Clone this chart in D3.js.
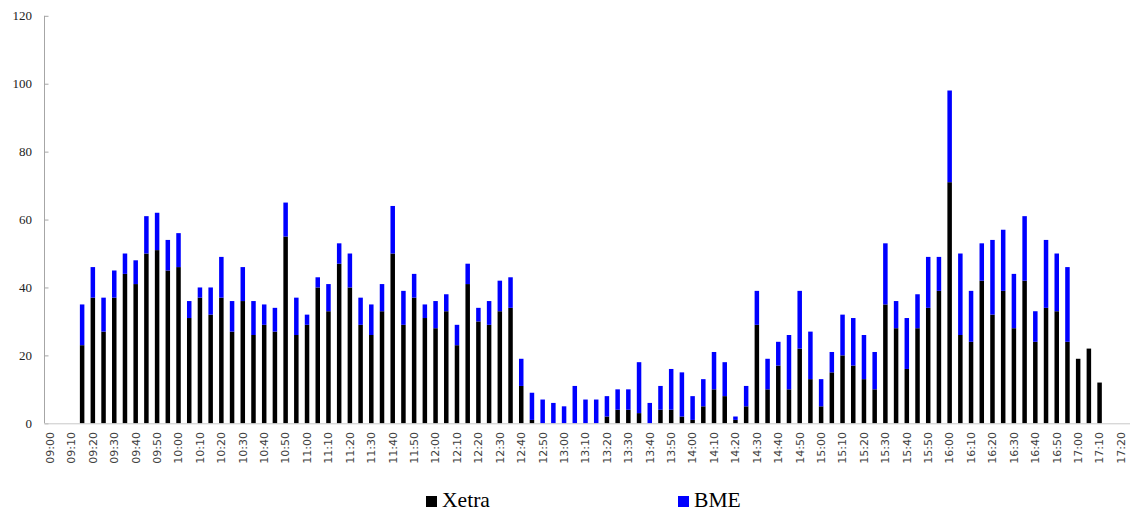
<!DOCTYPE html>
<html>
<head>
<meta charset="utf-8">
<script src="https://cdn.jsdelivr.net/npm/d3@7"></script>
<style>
  body { margin: 0; background: #fff; }
  svg { display: block; }
</style>
</head>
<body>
<svg id="chart" width="1132" height="515"></svg>
<script>
// bar times, one bar every 5 minutes
var times = ("09:15 09:20 09:25 09:30 09:35 09:40 09:45 09:50 09:55 10:00 10:05 10:10 " +
    "10:15 10:20 10:25 10:30 10:35 10:40 10:45 10:50 10:55 11:00 11:05 11:10 " +
    "11:15 11:20 11:25 11:30 11:35 11:40 11:45 11:50 11:55 12:00 12:05 12:10 " +
    "12:15 12:20 12:25 12:30 12:35 12:40 12:45 12:50 12:55 13:00 13:05 13:10 " +
    "13:15 13:20 13:25 13:30 13:35 13:40 13:45 13:50 13:55 14:00 14:05 14:10 " +
    "14:15 14:20 14:25 14:30 14:35 14:40 14:45 14:50 14:55 15:00 15:05 15:10 " +
    "15:15 15:20 15:25 15:30 15:35 15:40 15:45 15:50 15:55 16:00 16:05 16:10 " +
    "16:15 16:20 16:25 16:30 16:35 16:40 16:45 16:50 16:55 17:00 17:05 17:10").split(" ");

var xetra = [23, 37, 27, 37, 44, 41, 50, 51, 45, 46, 31, 37,
    32, 37, 27, 36, 26, 29, 27, 55, 26, 29, 40, 33,
    47, 40, 29, 26, 33, 50, 29, 37, 31, 28, 33, 23,
    41, 30, 29, 33, 34, 11, 1, 0, 0, 0, 0, 0,
    0, 2, 4, 4, 3, 0, 4, 4, 2, 1, 5, 10,
    8, 1, 5, 29, 10, 17, 10, 22, 13, 5, 15, 20,
    17, 13, 10, 35, 28, 16, 28, 34, 39, 71, 26, 24,
    42, 32, 39, 28, 42, 24, 34, 33, 24, 19, 22, 12];

var bme = [12, 9, 10, 8, 6, 7, 11, 11, 9, 10, 5, 3,
    8, 12, 9, 10, 10, 6, 7, 10, 11, 3, 3, 8,
    6, 10, 8, 9, 8, 14, 10, 7, 4, 8, 5, 6,
    6, 4, 7, 9, 9, 8, 8, 7, 6, 5, 11, 7,
    7, 6, 6, 6, 15, 6, 7, 12, 13, 7, 8, 11,
    10, 1, 6, 10, 9, 7, 16, 17, 14, 8, 6, 12,
    14, 13, 11, 18, 8, 15, 10, 15, 10, 27, 24, 15,
    11, 22, 18, 16, 19, 9, 20, 17, 22, 0, 0, 0];

var tickLabels = ["09:00", "09:10", "09:20", "09:30", "09:40", "09:50", "10:00", "10:10",
    "10:20", "10:30", "10:40", "10:50", "11:00", "11:10", "11:20", "11:30", "11:40",
    "11:50", "12:00", "12:10", "12:20", "12:30", "12:40", "12:50", "13:00", "13:10",
    "13:20", "13:30", "13:40", "13:50", "14:00", "14:10", "14:20", "14:30", "14:40",
    "14:50", "15:00", "15:10", "15:20", "15:30", "15:40", "15:50", "16:00", "16:10",
    "16:20", "16:30", "16:40", "16:50", "17:00", "17:10", "17:20"];

var yTicks = [0, 20, 40, 60, 80, 100, 120];

var seriesNames = ["Xetra", "BME"];
var seriesColors = ["#000000", "#0000ff"];

var parseTime = d3.timeParse("%H:%M");

var rows = times.map((t, i) => ({ time: parseTime(t), Xetra: xetra[i], BME: bme[i] }));

var svg = d3.select("#chart");

var x = d3.scaleTime()
    .domain([parseTime("09:00"), parseTime("17:20")])
    .range([50, 1121]);

var y = d3.scaleLinear()
    .domain([0, 120])
    .range([423.3, 15.8]);

var barWidth = 4.5;

// y axis, ticks pointing into the plot
var yAxis = svg.append("g")
    .attr("transform", "translate(44.5,0)")
    .call(d3.axisRight(y).tickValues(yTicks).tickSize(4).tickFormat(""));
yAxis.select(".domain").attr("stroke", "#a6a6a6").attr("d", "M0," + y(120) + "V" + y(0));
yAxis.selectAll(".tick line").attr("stroke", "#a6a6a6");

svg.append("g")
    .selectAll("text")
    .data(yTicks)
    .join("text")
    .attr("x", 32)
    .attr("y", d => y(d))
    .attr("dy", "0.35em")
    .attr("text-anchor", "end")
    .attr("font-family", "'Liberation Serif', 'Times New Roman', serif")
    .attr("font-size", 13)
    .attr("fill", "#222")
    .text(d => d);

// stacked bars
var stacked = d3.stack().keys(seriesNames)(rows);

svg.append("g")
    .selectAll("g")
    .data(stacked)
    .join("g")
    .attr("fill", (d, i) => seriesColors[i])
    .selectAll("rect")
    .data(d => d.filter(p => p[1] > p[0]))
    .join("rect")
    .attr("x", d => x(d.data.time) - barWidth / 2)
    .attr("y", d => y(d[1]))
    .attr("width", barWidth)
    .attr("height", d => y(d[0]) - y(d[1]));

// x axis line
svg.append("line")
    .attr("x1", 44.5)
    .attr("x2", 1130)
    .attr("y1", y(0) + 0.5)
    .attr("y2", y(0) + 0.5)
    .attr("stroke", "#c8c8c8");

svg.append("g")
    .selectAll("text")
    .data(tickLabels)
    .join("text")
    .attr("transform", d => "translate(" + x(parseTime(d)) + ",432) rotate(-90)")
    .attr("dy", "0.35em")
    .attr("text-anchor", "end")
    .attr("font-family", "'DejaVu Sans', Verdana, sans-serif")
    .attr("font-size", 11)
    .attr("fill", "#404040")
    .text(d => d);

// legend
var legendX = [426, 678];
var legend = svg.append("g")
    .selectAll("g")
    .data(seriesNames)
    .join("g")
    .attr("transform", (d, i) => "translate(" + legendX[i] + ",496)");

legend.append("rect")
    .attr("width", 11)
    .attr("height", 11)
    .attr("fill", (d, i) => seriesColors[i]);

legend.append("text")
    .attr("transform", "translate(16,11.3) scale(1.08,1)")
    .attr("font-family", "'Liberation Serif', 'Times New Roman', serif")
    .attr("font-size", 20)
    .attr("fill", "#000")
    .text(d => d);
</script>
</body>
</html>
